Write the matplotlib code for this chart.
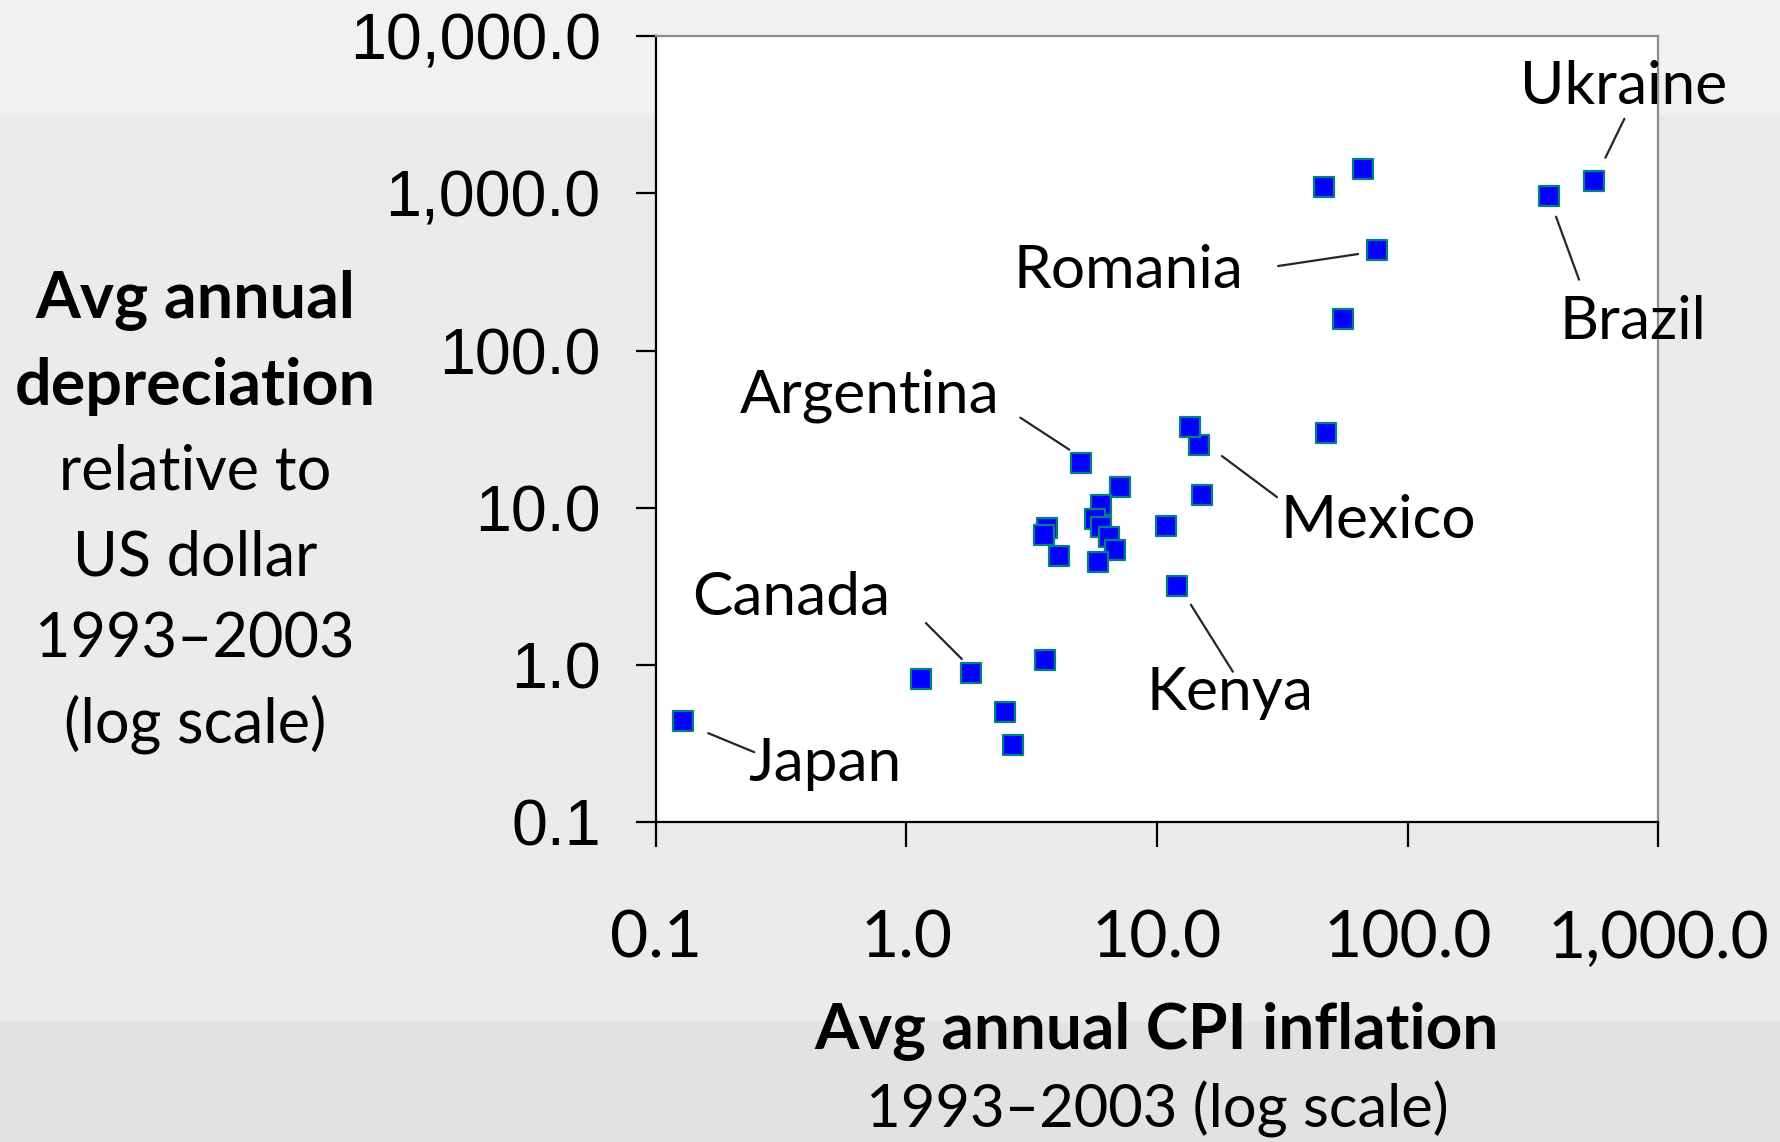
import matplotlib
matplotlib.use("Agg")
from matplotlib import pyplot as plt
from matplotlib import transforms as mtransforms
from matplotlib.patches import Rectangle
from matplotlib.ticker import FuncFormatter, FixedLocator, NullLocator

# Average annual CPI inflation and depreciation vs USD, 1993-2003
countries = ['Japan', 'Canada', 'Kenya', 'Argentina', 'Mexico', 'Romania', 'Brazil', 'Ukraine',
             '', '', '', '', '', '', '', '', '', '', '', '', '', '', '', '', '', '', '', '', '']
inflation = [0.129, 1.81, 12.0, 4.99, 14.7, 75.5, 366.0, 555.0,
             1.14, 2.47, 2.67, 3.56, 7.13, 5.97, 5.67, 6.0, 6.46, 6.81, 5.81, 3.64, 3.55, 4.05,
             10.85, 15.1, 13.6, 47.3, 46.2, 66.4, 55.4]
depreciation = [0.44, 0.89, 3.2, 19.4, 25.1, 437.0, 968.0, 1205.0,
                0.82, 0.50, 0.31, 1.07, 13.6, 10.5, 8.45, 7.6, 6.5, 5.4, 4.55, 7.4, 6.75, 4.94,
                7.7, 12.0, 32.9, 30.1, 1104.0, 1439.0, 160.0]

x_ticks = [0.1, 1, 10, 100, 1000]
y_ticks = [0.1, 1, 10, 100, 1000, 10000]

# label placement, pixel offsets from the point: (label), (leader start), (leader end)
label_layout = {
    'Japan':     ((142, -60), (25, -12), (71, -31)),
    'Canada':    ((-180, 58), (-9, 14), (-45, 50)),
    'Kenya':     ((53, -124), (14, -19), (56, -86)),
    'Argentina': ((-212, 50), (-12, 13), (-61, 45)),
    'Mexico':    ((179, -93), (23, -11), (78, -52)),
    'Romania':   ((-249, -38), (-19, -4), (-99, -16)),
    'Brazil':    ((84, -143), (7, -21), (30, -84)),
    'Ukraine':   ((29, 77), (11, 23), (30, 62)),
}

W, H = 1781, 1142
fig = plt.figure(figsize=(W / 100, H / 100), dpi=100)
fig.patch.set_facecolor('#ebebeb')
# slide background bands
fig.patches.append(Rectangle((0, 1 - 115 / H), 1, 115 / H, transform=fig.transFigure,
                             facecolor='#f1f1f1', edgecolor='none', zorder=-10))
fig.patches.append(Rectangle((0, 0), 1, 120 / H, transform=fig.transFigure,
                             facecolor='#e2e2e2', edgecolor='none', zorder=-10))

ax = fig.add_axes([655.5 / W, 1 - 822.3 / H, 1003 / W, 786 / H])
ax.set_facecolor('white')
ax.set_xscale('log')
ax.set_yscale('log')
ax.set_xlim(0.1, 1000)
ax.set_ylim(0.1, 10000)

fmt = FuncFormatter(lambda v, pos: f"{v:,.1f}")
ax.xaxis.set_major_locator(FixedLocator(x_ticks))
ax.yaxis.set_major_locator(FixedLocator(y_ticks))
ax.xaxis.set_minor_locator(NullLocator())
ax.yaxis.set_minor_locator(NullLocator())
ax.xaxis.set_major_formatter(fmt)
ax.yaxis.set_major_formatter(fmt)

for side in ['left', 'bottom']:
    ax.spines[side].set_color('black')
    ax.spines[side].set_linewidth(1.6)
for side in ['top', 'right']:
    ax.spines[side].set_color('#8c8c8c')
    ax.spines[side].set_linewidth(1.6)

ax.tick_params(axis='x', direction='out', length=18, width=1.6, pad=45, colors='black')
ax.tick_params(axis='y', direction='out', length=14.5, width=1.6, pad=25, colors='black')
for lab in ax.get_xticklabels():
    lab.set_fontfamily('Lato')
    lab.set_fontsize(47.5)
for lab in ax.get_yticklabels():
    lab.set_fontfamily('Liberation Sans')
    lab.set_fontsize(46.5)

ax.scatter(inflation, depreciation, marker='s', s=14.5 ** 2, c='#0000ff',
           edgecolors='#008080', linewidths=1.6, zorder=3, clip_on=False)

for name, x, y in zip(countries, inflation, depreciation):
    if not name:
        continue
    (lx, ly), (ax0, ay0), (ax1, ay1) = label_layout[name]
    ax.annotate(name, xy=(x, y), xytext=(lx, ly), textcoords='offset pixels',
                ha='center', va='baseline', fontsize=43.5, fontfamily='Lato', color='black')
    start = mtransforms.offset_copy(ax.transData, fig=fig, x=ax0, y=ay0, units='dots')
    ax.annotate('', xy=(x, y), xycoords=start, xytext=(ax1 - ax0, ay1 - ay0),
                textcoords='offset pixels',
                arrowprops=dict(arrowstyle='-', color='#262626', lw=1.6,
                                shrinkA=0, shrinkB=0))

# y axis title, stacked lines
ylabel_lines = [('Avg annual', 'bold', 46.5, 318), ('depreciation', 'bold', 46.5, 405),
                ('relative to', 'normal', 44, 490), ('US dollar', 'normal', 44, 575),
                ('1993\u20132003', 'normal', 44, 658), ('(log scale)', 'normal', 44, 743)]
for txt, weight, size, base in ylabel_lines:
    fig.text(195 / W, 1 - base / H, txt, ha='center', va='baseline',
             fontsize=size, fontweight=weight, fontfamily='Lato')

# x axis title
fig.text(1157 / W, 1 - 1048 / H, 'Avg annual CPI inflation', ha='center', va='baseline',
         fontsize=46, fontweight='bold', fontfamily='Lato')
fig.text(1157 / W, 1 - 1127 / H, '1993\u20132003 (log scale)', ha='center', va='baseline',
         fontsize=43, fontfamily='Lato')

plt.savefig('out.png', dpi=100, facecolor=fig.get_facecolor())
